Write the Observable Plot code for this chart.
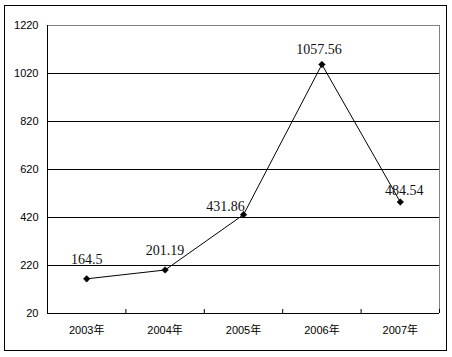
<!DOCTYPE html>
<html><head><meta charset="utf-8">
<script src="https://cdn.jsdelivr.net/npm/d3@7"></script>
<script src="https://cdn.jsdelivr.net/npm/@observablehq/plot@0.6"></script>
<style>
body{margin:0;background:#fff;}
#wrap{position:relative;width:452px;height:357px;}
#border{position:absolute;left:4px;top:5px;width:441px;height:344px;border:1px solid #000;pointer-events:none;}
</style>
</head><body>
<div id="wrap"><div id="border"></div></div>
<script>
const years = ["2003年","2004年","2005年","2006年","2007年"];
const values = [164.5, 201.19, 431.86, 1057.56, 484.54];
const labels = ["164.5","201.19","431.86","1057.56","484.54"];
const yTicks = [20,220,420,620,820,1020,1220];

const data = years.map((y,i)=>({i, year:y, value:values[i], label:labels[i]}));
const bounds = years.map((_,i)=>i+0.5);
const labelOffsets = [[0,-15],[0,-15],[-18,-4],[-3,-10],[4,-7]];

const textMarks = labelOffsets.map(([dx,dy],k)=>Plot.text(data,{
  filter:d=>d.i===k, x:"i", y:"value", text:"label", dx, dy,
  lineAnchor:"bottom", textAnchor:"middle",
  fontFamily:"'Liberation Serif','DejaVu Serif',serif", fontSize:14, fill:"#111"
}));

const chart = Plot.plot({
  width:452, height:357,
  marginLeft:47, marginRight:13, marginTop:25, marginBottom:44,
  style:{background:"transparent", fontFamily:"'Liberation Sans','Noto Sans CJK SC',sans-serif", fontSize:"11px", color:"#000"},
  x:{type:"linear", domain:[-0.5,4.5], axis:null, label:null},
  y:{domain:[20,1220], axis:null, label:null},
  marks:[
    Plot.ruleY(yTicks.filter(v=>v>20 && v<1220),{stroke:"#000", strokeWidth:1}),
    Plot.ruleY([1220],{stroke:"#808080"}),
    Plot.ruleX([4.5],{stroke:"#808080"}),
    Plot.ruleY([20],{stroke:"#000"}),
    Plot.ruleX([-0.5],{stroke:"#000"}),
    Plot.ruleX(bounds,{stroke:"#000", insetTop:284}),
    Plot.axisY({ticks:yTicks, tickFormat:d=>String(d), tickSize:0, tickPadding:9, fontSize:11, fill:"#000", label:null}),
    Plot.axisX({ticks:[0,1,2,3,4], tickFormat:i=>years[i], tickSize:0, tickPadding:13, fontSize:11, fill:"#000", label:null}),
    Plot.line(data,{x:"i", y:"value", stroke:"#000", strokeWidth:1}),
    Plot.dot(data,{x:"i", y:"value", symbol:"diamond2", r:3, fill:"#000", stroke:"#000", strokeWidth:0.5}),
    ...textMarks
  ]
});
document.getElementById("wrap").prepend(chart);
chart.style.position="absolute"; chart.style.left="0"; chart.style.top="0";
</script>
</body></html>
